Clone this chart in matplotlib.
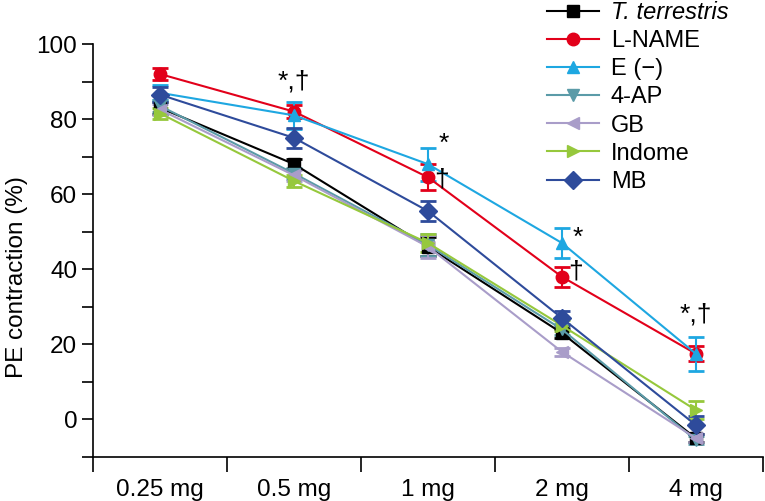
import matplotlib
matplotlib.use('Agg')
import matplotlib.pyplot as plt
from matplotlib.lines import Line2D

plt.rcParams['font.family'] = ['Liberation Sans', 'DejaVu Sans']

doses = ['0.25 mg', '0.5 mg', '1 mg', '2 mg', '4 mg']
groups = ['T. terrestris', 'L-NAME', 'E (\u2212)', '4-AP', 'GB', 'Indome', 'MB']

t_terr = [83.0, 68.0, 46.0, 23.0, -5.0]
l_name = [92.0, 82.0, 64.5, 38.0, 17.5]
e_minus = [87.0, 81.0, 68.0, 47.0, 17.5]
ap4 = [83.5, 65.5, 46.5, 24.0, -5.5]
gb = [82.5, 65.0, 46.0, 18.0, -5.0]
indome = [81.5, 63.5, 47.0, 25.0, 2.5]
mb = [86.5, 75.0, 55.5, 27.0, -1.5]

t_terr_err = [1.5, 1.3, 2.5, 1.2, 1.0]
l_name_err = [1.5, 1.8, 3.5, 2.6, 2.0]
e_minus_err = [2.0, 3.5, 4.4, 4.0, 4.5]
ap4_err = [1.5, 1.5, 3.0, 1.5, 1.0]
gb_err = [1.5, 1.5, 3.0, 1.0, 1.0]
indome_err = [1.5, 1.5, 2.5, 1.5, 2.5]
mb_err = [2.0, 2.6, 2.7, 2.0, 2.4]

values = [t_terr, l_name, e_minus, ap4, gb, indome, mb]
errors = [t_terr_err, l_name_err, e_minus_err, ap4_err, gb_err, indome_err, mb_err]
colors = ['#000000', '#e2001a', '#1ea7e1', '#5b9ba8', '#a99dc9', '#96c83c', '#2e4b9b']
markers = ['s', 'o', '^', 'v', '<', '>', 'D']

# significance marks: (text, x, y)
notes = [('*,\u2020', 1.0, 90.0), ('*', 2.12, 73.5), ('\u2020', 2.1, 64.0),
         ('*', 3.12, 48.5), ('\u2020', 3.1, 39.5), ('*,\u2020', 4.0, 28.0)]

fig = plt.figure(figsize=(7.65, 5.01), dpi=100)
ax = fig.add_axes([0.122, 0.088, 0.875, 0.824])

x = list(range(len(doses)))
handles = []
for name, y, err, c, m in zip(groups, values, errors, colors, markers):
    ax.errorbar(x, y, yerr=err, color=c, marker=m, markersize=9, lw=1.5,
                elinewidth=1.5, capsize=6, capthick=2)
    handles.append(Line2D([], [], color=c, marker=m, markersize=9, lw=1.5, label=name))

for txt, tx, ty in notes:
    ax.text(tx, ty, txt, fontsize=19, ha='center', va='center')

ax.set_xlim(-0.5, 4.5)
ax.set_ylim(-10, 100)
ax.set_xticks([i - 0.5 for i in range(len(doses) + 1)])
ax.set_xticklabels([])
ax.set_xticks(x, minor=True)
ax.set_xticklabels(doses, minor=True, fontsize=17.5)
ax.tick_params(axis='x', which='major', length=11, width=1.2, direction='out')
ax.tick_params(axis='x', which='minor', length=0, pad=16)
ax.set_yticks([0, 20, 40, 60, 80, 100])
ax.set_yticks([-10, 10, 30, 50, 70, 90], minor=True)
ax.tick_params(axis='y', which='both', length=8, width=1.2, labelsize=17.5)
ax.spines['top'].set_visible(False)
ax.spines['right'].set_visible(False)
ax.spines['left'].set_linewidth(1.2)
ax.spines['bottom'].set_linewidth(1.2)
ax.set_ylabel('PE contraction (%)', fontsize=17.5)
ax.yaxis.set_label_coords(-0.098, 0.436)

leg = fig.legend(handles=handles, loc='upper left', bbox_to_anchor=(0.715, 0.998),
                 frameon=False, fontsize=17, handlelength=2.2, handletextpad=0.5,
                 labelspacing=0.26, borderpad=0, borderaxespad=0)
leg.get_texts()[0].set_style('italic')

fig.savefig('out.png', dpi=100)
